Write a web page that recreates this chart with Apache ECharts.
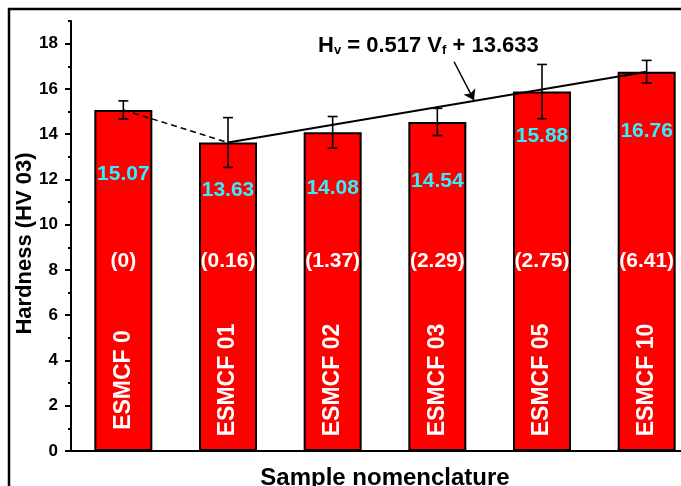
<!DOCTYPE html>
<html>
<head>
<meta charset="utf-8">
<script src="https://cdn.jsdelivr.net/npm/echarts@6/dist/echarts.min.js"></script>
<style>
  html, body { margin: 0; padding: 0; background: #ffffff; }
  #chart { width: 681px; height: 486px; }
</style>
</head>
<body>
<div id="chart"></div>
<script>
// Sample names, measured Vickers hardness and its spread
const categories = ['ESMCF 0', 'ESMCF 01', 'ESMCF 02', 'ESMCF 03', 'ESMCF 05', 'ESMCF 10'];
const hardness = [15.07, 13.63, 14.08, 14.54, 15.88, 16.76];
const hardnessErr = [0.40, 1.10, 0.70, 0.60, 1.20, 0.50];
// Filler volume fraction of each sample, printed inside the bars
const volumeFraction = ['(0)', '(0.16)', '(1.37)', '(2.29)', '(2.75)', '(6.41)'];
// Axis ticks
const majorTicks = [0, 2, 4, 6, 8, 10, 12, 14, 16, 18];
const minorTicks = [1, 3, 5, 7, 9, 11, 13, 15, 17, 19];
// Linear fit of hardness against volume fraction
const fitSlope = 0.517;
const fitIntercept = 13.633;

// Layout: distance (px) from the bar top to the centre of its value label
const valueLabelDrop = [64, 48, 56, 59, 45, 60];

const FONT = '"Liberation Sans", Arial, Helvetica, sans-serif';
const chart = echarts.init(document.getElementById('chart'), null, { renderer: 'canvas' });

const dashedSeg = hardness.map((v, i) => (i <= 1 ? v : '-'));
const fitSeg = hardness.map((v, i) => (i === 1 || i === hardness.length - 1 ? v : '-'));
const errData = hardness.map((v, i) => [i, v - hardnessErr[i], v + hardnessErr[i]]);

const option = {
  backgroundColor: '#ffffff',
  animation: false,
  textStyle: { fontFamily: FONT },
  // the plot runs on past the right edge of the canvas
  grid: { left: 71, top: 21, width: 628, height: 430, containLabel: false, outerBoundsMode: 'none' },
  xAxis: [
    {
      type: 'category',
      data: categories,
      position: 'bottom',
      z: 10,
      axisLine: { show: true, onZero: false, lineStyle: { color: '#000', width: 2 } },
      axisTick: { show: false },
      splitLine: { show: false },
      axisLabel: {
        inside: true, rotate: 90, margin: 71, interval: 0,
        align: 'center', verticalAlign: 'middle',
        color: '#ffffff', fontWeight: 'bold', fontSize: 23, fontFamily: FONT
      },
      name: 'Sample nomenclature',
      nameLocation: 'middle',
      nameGap: 15,
      nameMoveOverlap: false,
      nameTextStyle: { color: '#000', fontWeight: 'bold', fontSize: 24, fontFamily: FONT, verticalAlign: 'top' }
    },
    {
      type: 'category',
      data: volumeFraction,
      position: 'bottom',
      z: 10,
      axisLine: { show: false, onZero: false },
      axisTick: { show: false },
      splitLine: { show: false },
      axisLabel: {
        inside: true, margin: 190, interval: 0,
        align: 'center', verticalAlign: 'middle',
        color: '#ffffff', fontWeight: 'bold', fontSize: 21, fontFamily: FONT
      }
    },
    {
      type: 'value',
      position: 'top',
      min: -0.5,
      max: 5.5,
      show: false,
      axisLine: { onZero: false }
    }
  ],
  yAxis: [
    {
      type: 'value',
      position: 'left',
      min: 0,
      max: 19,
      axisLine: { show: true, onZero: false, lineStyle: { color: '#000', width: 2 } },
      axisTick: { show: true, inside: false, length: 6, customValues: majorTicks, lineStyle: { color: '#000', width: 2 } },
      axisLabel: {
        show: true, customValues: majorTicks, margin: 13,
        color: '#000', fontWeight: 'bold', fontSize: 17, fontFamily: FONT
      },
      splitLine: { show: false },
      name: 'Hardness (HV 03)',
      nameLocation: 'middle',
      nameGap: 35,
      nameMoveOverlap: false,
      nameTextStyle: { color: '#000', fontWeight: 'bold', fontSize: 22, fontFamily: FONT, padding: [0, 15, 0, 0] }
    },
    {
      type: 'value',
      position: 'left',
      min: 0,
      max: 19,
      axisLine: { show: false, onZero: false },
      axisTick: { show: true, inside: false, length: 3, customValues: minorTicks, lineStyle: { color: '#000', width: 2 } },
      axisLabel: { show: false },
      splitLine: { show: false }
    }
  ],
  series: [
    {
      name: 'Hardness',
      type: 'bar',
      xAxisIndex: 0,
      yAxisIndex: 0,
      barWidth: 58,
      z: 2,
      itemStyle: { color: '#ff0000', borderColor: '#000', borderWidth: 2 },
      label: {
        show: true,
        color: '#33eeff', fontWeight: 'bold', fontSize: 21, fontFamily: FONT,
        align: 'center', verticalAlign: 'middle',
        formatter: (p) => p.value.toFixed(2)
      },
      data: hardness.map((v, i) => ({ value: v, label: { position: ['50%', valueLabelDrop[i]] } }))
    },
    {
      name: 'Error',
      type: 'custom',
      xAxisIndex: 0,
      yAxisIndex: 0,
      z: 4,
      encode: { x: 0, y: [1, 2] },
      renderItem: (params, api) => {
        const x = api.value(0);
        const lo = api.coord([x, api.value(1)]);
        const hi = api.coord([x, api.value(2)]);
        const cap = 5;
        const style = { stroke: '#000', lineWidth: 1.6 };
        return {
          type: 'group',
          children: [
            { type: 'line', shape: { x1: lo[0], y1: lo[1], x2: hi[0], y2: hi[1] }, style },
            { type: 'line', shape: { x1: lo[0] - cap, y1: lo[1], x2: lo[0] + cap, y2: lo[1] }, style },
            { type: 'line', shape: { x1: hi[0] - cap, y1: hi[1], x2: hi[0] + cap, y2: hi[1] }, style }
          ]
        };
      },
      data: errData
    },
    {
      name: 'Trend',
      type: 'line',
      xAxisIndex: 0,
      yAxisIndex: 0,
      z: 5,
      symbol: 'none',
      lineStyle: { color: '#000', width: 1.5, type: [6, 4] },
      data: dashedSeg
    },
    {
      name: 'Fit',
      type: 'line',
      xAxisIndex: 0,
      yAxisIndex: 0,
      z: 5,
      symbol: 'none',
      connectNulls: true,
      lineStyle: { color: '#000', width: 2 },
      data: fitSeg
    },
    {
      name: 'Pointer',
      type: 'lines',
      coordinateSystem: 'cartesian2d',
      xAxisIndex: 2,
      yAxisIndex: 0,
      z: 6,
      symbol: ['none', 'arrow'],
      symbolSize: [0, 10],
      lineStyle: { color: '#000', width: 1.5, opacity: 1 },
      data: [{ coords: [[3.16, 17.2], [3.35, 15.5]] }]
    }
  ],
  graphic: [
    {
      type: 'rect',
      silent: true,
      z: -1,
      shape: { x: 9, y: 9, width: 740, height: 540 },
      style: { fill: 'none', stroke: '#000', lineWidth: 2.5 }
    },
    {
      type: 'text',
      x: 318,
      y: 35,
      z: 20,
      style: {
        text: '{m|H}{s|v}{m| = ' + fitSlope.toFixed(3) + ' V}{s|f}{m| + ' + fitIntercept.toFixed(3) + '}',
        rich: {
          m: { fontSize: 22, fontWeight: 'bold', fontFamily: FONT, fill: '#000', lineHeight: 22, verticalAlign: 'top' },
          s: { fontSize: 13, fontWeight: 'bold', fontFamily: FONT, fill: '#000', lineHeight: 13, verticalAlign: 'bottom', padding: [16, 0, 0, 0] }
        }
      }
    }
  ]
};

chart.setOption(option);
</script>
</body>
</html>
